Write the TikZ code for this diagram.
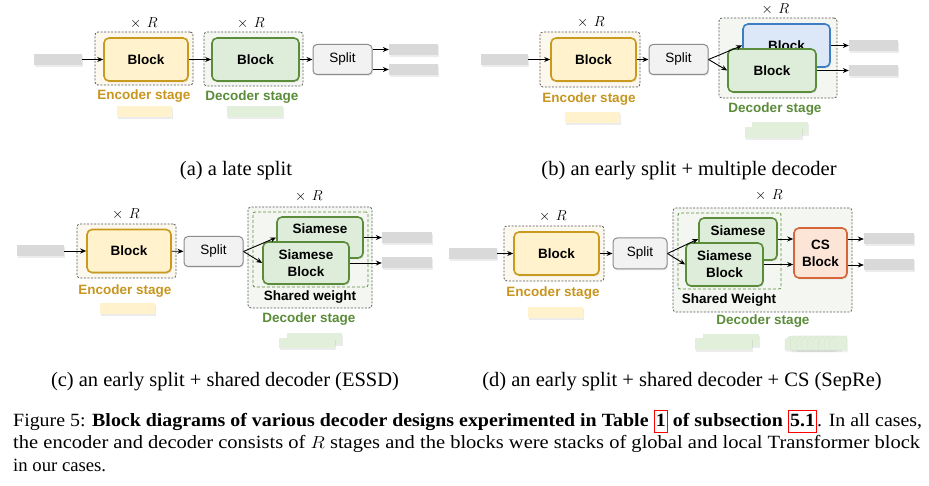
\documentclass[tikz,border=0pt]{standalone}
\usepackage{graphicx}
\usepackage{fontspec}
\setmainfont{Liberation Serif}
\newfontfamily\dsans{Liberation Sans}
\usetikzlibrary{arrows.meta,shadows}
\definecolor{ybord}{HTML}{C99A1E}
\definecolor{yfill}{HTML}{FFF2CC}
\definecolor{ytext}{HTML}{C8961E}
\definecolor{gbord}{HTML}{5B8C3A}
\definecolor{gfill}{HTML}{DEEDDA}
\definecolor{gtext}{HTML}{5B8C3A}
\definecolor{bbord}{HTML}{3C7DC4}
\definecolor{bfill}{HTML}{DCE8F7}
\definecolor{obord}{HTML}{D4663A}
\definecolor{ofill}{HTML}{FCE4D6}
\definecolor{sfill}{HTML}{F2F2F2}
\definecolor{sbord}{HTML}{8C8C8C}
\definecolor{encbg}{HTML}{FCF8EE}
\definecolor{decbg}{HTML}{F4F7F1}
\definecolor{phgray}{HTML}{D9D9D9}
\definecolor{phyel}{HTML}{FFF2CC}
\definecolor{phgrn}{HTML}{E2EFDA}
\newcommand\lnk[1]{{\setlength\fboxsep{1.2pt}\setlength\fboxrule{0.9pt}\fcolorbox{red}{white}{\rule[-0.27em]{0pt}{1.0em}#1}}}
\newcommand\timesR{$\times\mkern7mu R$}
\tikzset{
  sz/.style 2 args={minimum width=#1pt,minimum height=#2pt},
  blk/.style={rectangle,rounded corners=5pt,line width=1.6pt,inner sep=0pt,align=center,
    font=\dsans\bfseries\fontsize{13.5}{17}\selectfont,
    drop shadow={shadow xshift=1pt,shadow yshift=-1.5pt,opacity=0.2}},
  blkY/.style={blk,draw=ybord,fill=yfill},
  blkG/.style={blk,draw=gbord,fill=gfill},
  blkB/.style={blk,draw=bbord,fill=bfill},
  blkO/.style={blk,draw=obord,fill=ofill},
  splitbox/.style={rectangle,rounded corners=4pt,draw=sbord,fill=sfill,line width=1pt,inner sep=0pt,
    font=\dsans\fontsize{13.5}{16}\selectfont,
    drop shadow={shadow xshift=1pt,shadow yshift=-1.5pt,opacity=0.15}},
  stagebox/.style={rectangle,rounded corners=3pt,draw=black!65,dash pattern=on 2pt off 1.5pt,line width=0.8pt,inner sep=0pt},
  innerbox/.style={rectangle,rounded corners=2pt,draw=gbord,dash pattern=on 3pt off 2pt,line width=0.8pt,inner sep=0pt},
  ph/.style={rectangle,inner sep=0pt,drop shadow={shadow xshift=0.5pt,shadow yshift=-2pt,opacity=0.15}},
  arr/.style={-{Stealth[length=6pt,width=5pt]},line width=0.9pt},
  xr/.style={font=\fontsize{13.5}{16}\selectfont,inner sep=1pt},
  stlbl/.style={font=\dsans\bfseries\fontsize{13.5}{16}\selectfont},
  subcap/.style={font=\fontsize{20.5}{24}\selectfont,anchor=base,inner sep=0pt},
  capline/.style={font=\fontsize{18.7}{22}\selectfont,anchor=base west,inner sep=0pt},
}
\begin{document}
\begin{tikzpicture}[x=1pt,y=-1pt]
\useasboundingbox[fill=white] (0,0) rectangle (929,486);

% ---------------- (a)
\node[stagebox,fill=encbg,sz={98}{53}] (encA) at (144,58.5) {};
\node[blkY,sz={84}{43}] (bA1) at (146,59.5) {Block};
\node[xr] (xrA1) at (144,23) {\timesR};
\node[stlbl,text=ytext] (esA) at (144,96) {Encoder stage};
\node[ph,fill=phyel,sz={55}{11}] (pyA) at (144.5,111.5) {};
\node[stagebox,fill=decbg,sz={99}{54}] (decA) at (253.5,59) {};
\node[blkG,sz={87}{43}] (bA2) at (255.5,59.5) {Block};
\node[xr] (xrA2) at (251,23) {\timesR};
\node[stlbl,text=gtext] (dsA) at (252,97) {Decoder stage};
\node[ph,fill=phgrn,sz={56}{11}] (pgA) at (255,111.5) {};
\node[splitbox,sz={59}{30}] (spA) at (342.5,59.5) {Split};
\node[ph,fill=phgray,sz={48}{11}] (inA) at (58,59.5) {};
\node[ph,fill=phgray,sz={49}{11}] (oA1) at (413.5,49.5) {};
\node[ph,fill=phgray,sz={49}{11}] (oA2) at (413.5,69.5) {};
\draw[arr] (inA) -- (bA1);
\draw[arr] (bA1) -- (bA2);
\draw[arr] (bA2) -- (spA);
\draw[arr] (spA.east |- oA1) -- (oA1.west);
\draw[arr] (spA.east |- oA2) -- (oA2.west);
\node[subcap] (capA) at (236,175.5) {(a) a late split};

% ---------------- (b)
\node[ph,fill=phgray,sz={47}{11}] (inB) at (504.5,59.5) {};
\node[stagebox,fill=encbg,sz={100}{55}] (encB) at (590,59.5) {};
\node[blkY,sz={85}{43}] (bB1) at (593.5,59.5) {Block};
\node[xr] (xrB1) at (591,22) {\timesR};
\node[stlbl,text=ytext] (esB) at (589,99) {Encoder stage};
\node[ph,fill=phyel,sz={55}{11}] (pyB) at (592.5,117.5) {};
\node[splitbox,sz={59}{30}] (spB) at (678.5,59.5) {Split};
\node[stagebox,fill=decbg,sz={118}{80}] (decB) at (778,58) {};
\node[xr] (xrB2) at (775.5,9.5) {\timesR};
\node[blkB,sz={87}{43}] (bB2) at (786.5,45.5) {Block};
\node[blkG,sz={88}{43}] (bB3) at (772,70.5) {Block};
\node[stlbl,text=gtext] (dsB) at (775,109) {Decoder stage};
\node[ph,fill=phgrn,sz={56}{12}] (pgB1) at (780,128) {};
\node[ph,fill=phgrn,sz={57}{11}] (pgB2) at (773.5,132.5) {};
\node[ph,fill=phgray,sz={49}{11}] (oB1) at (873.5,45.5) {};
\node[ph,fill=phgray,sz={49}{11}] (oB2) at (873.5,70.5) {};
\draw[arr] (inB) -- (bB1);
\draw[arr] (bB1) -- (spB);
\draw[arr] (spB.east) -- (bB2.west);
\draw[arr] (spB.east) -- (bB3.west);
\draw[arr] (bB2) -- (oB1);
\draw[arr] (bB3) -- (oB2);
\node[subcap] (capB) at (689,175.5) {(b) an early split + multiple decoder};

% ---------------- (c)
\node[ph,fill=phgray,sz={47}{11}] (inC) at (40.5,251) {};
\node[stagebox,fill=encbg,sz={99}{54}] (encC) at (126.5,251) {};
\node[blkY,sz={84}{43}] (bC1) at (129,251) {Block};
\node[xr] (xrC1) at (126,214) {\timesR};
\node[stlbl,text=ytext] (esC) at (125,291) {Encoder stage};
\node[ph,fill=phyel,sz={55}{11}] (pyC) at (127.5,308.5) {};
\node[splitbox,sz={59}{30}] (spC) at (213.5,251.5) {Split};
\node[stagebox,fill=decbg,sz={124}{101}] (decC) at (310,257.5) {};
\node[innerbox,sz={115}{75}] (shC) at (310.5,249.5) {};
\node[xr] (xrC2) at (309,196) {\timesR};
\node[blkG,sz={86}{41}] (sbC) at (320,237.5) {Siamese\\\phantom{Block}};
\node[blkG,sz={86}{42}] (sfC) at (306,263) {Siamese\\Block};
\node[stlbl] (swC) at (310,297) {Shared weight};
\node[stlbl,text=gtext] (dsC) at (309,319) {Decoder stage};
\node[ph,fill=phgrn,sz={55}{11}] (pgC1) at (314.5,338.5) {};
\node[ph,fill=phgrn,sz={56}{10}] (pgC2) at (307,343) {};
\node[ph,fill=phgray,sz={50}{11}] (oC1) at (407,237.5) {};
\node[ph,fill=phgray,sz={50}{11}] (oC2) at (407,263) {};
\draw[arr] (inC) -- (bC1);
\draw[arr] (bC1) -- (spC);
\draw[arr] (spC.east) -- (sbC.west);
\draw[arr] (spC.east) -- (sfC.west);
\draw[arr] (sbC) -- (oC1);
\draw[arr] (sfC) -- (oC2);
\node[subcap] (capC) at (225,386.5) {(c) an early split + shared decoder (ESSD)};

% ---------------- (d)
\node[ph,fill=phgray,sz={48}{11}] (inD) at (473,253.5) {};
\node[stagebox,fill=encbg,sz={100}{55}] (encD) at (554,253.5) {};
\node[blkY,sz={85}{43}] (bD1) at (556.5,253.5) {Block};
\node[xr] (xrD1) at (553,216) {\timesR};
\node[stlbl,text=ytext] (esD) at (553,293) {Encoder stage};
\node[ph,fill=phyel,sz={55}{11}] (pyD) at (555.5,312.5) {};
\node[splitbox,sz={54}{31}] (spD) at (640,253.5) {Split};
\node[stagebox,fill=decbg,sz={179}{104}] (decD) at (762.5,260) {};
\node[innerbox,sz={103}{76}] (shD) at (729.5,251) {};
\node[xr] (xrD2) at (769,195) {\timesR};
\node[blkG,sz={78}{42}] (sbD) at (738,239) {Siamese\\\phantom{Block}};
\node[blkG,sz={77}{43}] (sfD) at (724.5,264.5) {Siamese\\Block};
\node[blkO,sz={53}{50}] (csD) at (820.5,253) {CS\\Block};
\node[stlbl] (swD) at (729,300) {Shared Weight};
\node[stlbl,text=gtext] (dsD) at (763,321) {Decoder stage};
\node[ph,fill=phgrn,sz={56}{12}] (pgD1) at (731,340) {};
\node[ph,fill=phgrn,sz={57}{12}] (pgD2) at (723.5,344) {};
\foreach \i in {0,...,8}{
  \fill[black,opacity=0.05] ({786+5.6*\i},{342}) -- ({791+5.6*\i},{338}) -- ({803+5.6*\i},{338}) -- ({803+5.6*\i},{352}) -- ({786+5.6*\i},{352}) -- cycle;
  \filldraw[fill=phgrn,draw=phgrn!90!gray,line width=0.3pt] ({785+5.6*\i},{340}) -- ({790+5.6*\i},{336}) -- ({802+5.6*\i},{336}) -- ({802+5.6*\i},{350}) -- ({785+5.6*\i},{350}) -- cycle;
}
\node[ph,fill=phgray,sz={50}{11}] (oD1) at (889,239) {};
\node[ph,fill=phgray,sz={50}{11}] (oD2) at (889,265) {};
\draw[arr] (inD) -- (bD1);
\draw[arr] (bD1) -- (spD);
\draw[arr] (spD.east) -- (sbD.west);
\draw[arr] (spD.east) -- (sfD.west);
\draw[arr] (sbD.east) -- (sbD.east -| csD.west);
\draw[arr] (sfD.east) -- (sfD.east -| csD.west);
\draw[arr] (csD.east |- oD1) -- (oD1.west);
\draw[arr] (csD.east |- oD2) -- (oD2.west);
\node[subcap] (capD) at (682,386.5) {(d) an early split + shared decoder + CS (SepRe)};

% ---------------- caption
\node[capline] (cap1) at (13,426) {\resizebox{909pt}{\height}{Figure 5: \textbf{Block diagrams of various decoder designs experimented in Table \lnk{1} of subsection \lnk{5.1}}. In all cases,}};
\node[capline] (cap2) at (13,448.5) {\resizebox{907pt}{\height}{the encoder and decoder consists of $R$ stages and the blocks were stacks of global and local Transformer block}};
\node[capline] (cap3) at (13,471) {in our cases.};
\end{tikzpicture}
\end{document}
